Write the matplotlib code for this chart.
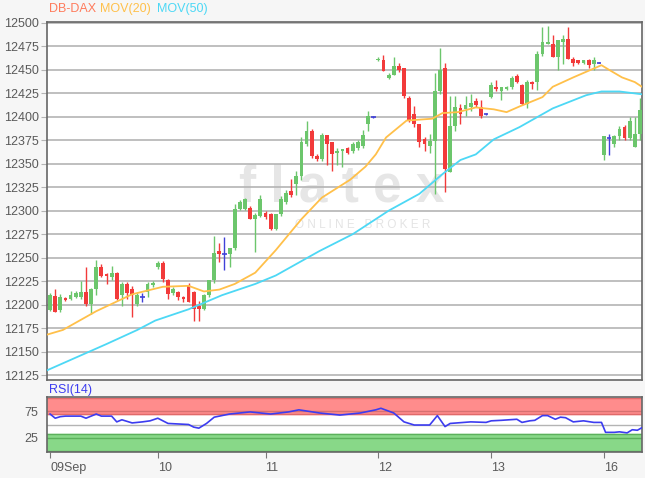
import matplotlib
matplotlib.use("Agg")
import matplotlib.pyplot as plt
import numpy as np

plt.rcParams["font.family"] = ["Liberation Sans", "DejaVu Sans"]

# candles: (open, high, low, close), 30-min bars, index = bar number
opens = [12194, 12209, 12194, 12207, 12206, 12208, 12208, 12213, 12201, 12217,
         12240, 12233, 12229, 12234, 12210, 12222, 12217, 12201, 12208, 12213, 12221,
         12240, 12244, 12226, 12212, 12213, 12208, 12221, 12213, 12199, 12195,
         12210, 12226, 12257, 12254, 12254, 12260, 12302, 12302, 12303, 12291, 12294,
         12298, 12297, 12281, 12296, 12309, 12321, 12328, 12337, 12371, 12385, 12358,
         12355, 12381, 12373, 12362, 12364, 12367, 12364, 12367, 12369, 12392, 12400,
         12460, 12461, 12441, 12445, 12454, 12452, 12420, 12403, 12392, 12376, 12369,
         12374, 12427, 12452, 12341, 12390, 12409, 12408, 12410, 12417, 12410, 12403,
         12421, 12432, 12428, 12430, 12432, 12444, 12434, 12414, 12437, 12437, 12467,
         12478, 12478, 12464, 12480, 12483, 12462, 12460, 12457, 12460, 12456, 12457,
         12359, 12377, 12371, 12380, 12389, 12377, 12368, 12382]
closes = [12210, 12192, 12208, 12205, 12210, 12212, 12213, 12201, 12217, 12240,
          12230, 12230, 12234, 12206, 12222, 12212, 12210, 12210, 12208, 12222, 12223,
          12244, 12227, 12211, 12217, 12208, 12206, 12203, 12195, 12195, 12210,
          12226, 12255, 12254, 12254, 12260, 12302, 12309, 12312, 12291, 12295, 12312,
          12293, 12281, 12296, 12312, 12319, 12317, 12337, 12373, 12385, 12358, 12355,
          12381, 12371, 12360, 12364, 12366, 12362, 12371, 12373, 12381, 12401, 12400,
          12462, 12449, 12445, 12454, 12450, 12422, 12396, 12392, 12373, 12371, 12374,
          12427, 12450, 12344, 12390, 12410, 12403, 12413, 12415, 12413, 12401, 12403,
          12434, 12430, 12432, 12432, 12441, 12437, 12414, 12437, 12435, 12467, 12480,
          12480, 12464, 12482, 12483, 12462, 12457, 12457, 12460, 12455, 12460, 12457,
          12380, 12377, 12380, 12387, 12377, 12396, 12382, 12407]
highs = [12212, 12217, 12211, 12208, 12214, 12214, 12225, 12240, 12218, 12247,
         12243, 12234, 12241, 12235, 12224, 12224, 12220, 12212, 12212, 12224, 12225,
         12246, 12246, 12227, 12219, 12215, 12209, 12223, 12214, 12204, 12211,
         12226, 12273, 12266, 12272, 12260, 12307, 12311, 12314, 12305, 12298, 12317,
         12300, 12298, 12297, 12316, 12322, 12334, 12342, 12378, 12396, 12387, 12360,
         12383, 12381, 12373, 12367, 12366, 12368, 12373, 12375, 12386, 12406, 12401,
         12464, 12466, 12447, 12464, 12457, 12452, 12422, 12412, 12392, 12378, 12382,
         12447, 12473, 12457, 12422, 12422, 12414, 12422, 12424, 12420, 12418, 12404,
         12437, 12439, 12432, 12433, 12443, 12446, 12435, 12439, 12438, 12470, 12496,
         12497, 12487, 12482, 12487, 12496, 12464, 12461, 12461, 12462, 12464, 12458,
         12380, 12382, 12381, 12390, 12391, 12400, 12400, 12420]
lows = [12193, 12192, 12192, 12204, 12205, 12207, 12206, 12199, 12190, 12210,
        12229, 12222, 12226, 12205, 12199, 12206, 12187, 12199, 12203, 12208, 12219,
        12238, 12224, 12206, 12210, 12205, 12203, 12203, 12183, 12183, 12194,
        12208, 12223, 12245, 12237, 12240, 12258, 12301, 12301, 12291, 12256, 12293,
        12291, 12279, 12279, 12294, 12307, 12315, 12317, 12333, 12369, 12356, 12353,
        12353, 12349, 12342, 12349, 12347, 12360, 12362, 12365, 12367, 12385, 12399,
        12459, 12449, 12440, 12445, 12448, 12420, 12394, 12389, 12368, 12364, 12361,
        12318, 12424, 12320, 12341, 12385, 12392, 12401, 12406, 12410, 12399, 12402,
        12420, 12427, 12418, 12429, 12430, 12436, 12413, 12409, 12430, 12429, 12465,
        12478, 12464, 12450, 12456, 12462, 12454, 12456, 12456, 12452, 12450, 12457,
        12354, 12359, 12368, 12375, 12375, 12375, 12368, 12375]

# moving averages, read at bar positions
ma20_x = [-0.6, 2.5, 9, 16, 22, 27, 30, 33, 36, 40, 44, 49, 53, 58.5, 61.5, 63.5,
          65.5, 69.5, 74.5, 76.5, 79.5, 83, 86.5, 89, 91.5, 96, 98, 102, 107.5, 109,
          111.5, 114, 115.4]
ma20 = [12168, 12173, 12193, 12211, 12219, 12220, 12214, 12216, 12222, 12234,
        12258, 12291, 12314, 12333, 12347, 12360, 12378, 12396, 12398, 12404, 12405,
        12410, 12408, 12405, 12411, 12421, 12432, 12442, 12455, 12450, 12442, 12437,
        12432]
ma50_x = [-0.6, 11, 17, 20.5, 27, 33.5, 40, 44, 52.5, 59, 66, 72, 76.5, 80, 83, 86.5,
          91.5, 98, 104.5, 107.5, 111, 115.4]
ma50 = [12130, 12158, 12173, 12183, 12195, 12210, 12222, 12231, 12257, 12275, 12300,
        12318, 12339, 12354, 12360, 12376, 12389, 12409, 12423, 12427, 12427, 12424]

# RSI(14)
rsi_x = [0, 1, 2, 3, 6, 7, 9, 10, 12, 13, 14, 16, 18, 19.5, 21, 22, 23, 25, 27, 28,
         29, 30.5, 32, 33, 35, 39, 43, 46.5, 48.5, 52.5, 56.5, 60.5, 63.5, 64.5,
         67, 69, 71, 74, 75.5, 77, 78, 82, 85, 86, 88, 91, 92, 93.5, 94.5, 96,
         97, 98.5, 99.5, 100.5, 102, 104, 106, 107.5, 108.3, 110, 111, 112.5, 113.5,
         114.5, 115.4]
rsi = [70, 62, 65, 66, 66, 62, 70, 66, 66, 55, 59, 53, 55, 57, 62, 57, 52, 51, 50,
       45, 43, 52, 64, 66, 70, 74, 70, 74, 78, 72, 68, 72, 78, 81, 72, 55, 49, 49,
       67, 46, 52, 55, 54, 57, 58, 60, 54, 57, 58, 67, 67, 60, 64, 63, 55, 57, 54,
       54, 35, 35, 36, 34, 40, 39, 44]

day_ticks = [0, 21, 42, 64, 86, 108]
day_labels = ["09Sep", "10", "11", "12", "13", "16"]

GREEN = "#6cc66c"
RED = "#f23a3a"
DOJI = "#4040d8"
GRID = "#b4b4b4"
TXT = "#5a5a5a"

fig = plt.figure(figsize=(6.45, 4.78), dpi=100)
fig.patch.set_facecolor("#f6f6f6")

ax = fig.add_axes([47 / 645, 1 - 380 / 478, 595 / 645, 358 / 478])
rax = fig.add_axes([47 / 645, 1 - 452 / 478, 595 / 645, 55 / 478], sharex=ax)

# ---- main candle panel
o = np.array(opens)
c = np.array(closes)
h = np.array(highs)
l = np.array(lows)
idx = np.arange(len(o))
up = c > o
down = c < o
flat = c == o

ax.vlines(idx[up], l[up], h[up], color=GREEN, lw=1.0, zorder=3)
ax.vlines(idx[down], l[down], h[down], color=RED, lw=1.0, zorder=3)
ax.vlines(idx[flat], l[flat], h[flat], color=DOJI, lw=1.0, zorder=3)
ax.bar(idx[up], c[up] - o[up], bottom=o[up], width=0.74, color=GREEN, zorder=4)
ax.bar(idx[down], o[down] - c[down], bottom=c[down], width=0.74, color=RED, zorder=4)
ax.hlines(o[flat], idx[flat] - 0.45, idx[flat] + 0.45, color=DOJI, lw=1.2, zorder=4)

ax.plot(ma20_x, ma20, color="#ffc04a", lw=1.3, zorder=5)
ax.plot(ma50_x, ma50, color="#4dd8f5", lw=1.3, zorder=5)

ax.set_xlim(-0.6, 115.4)
ax.set_ylim(12119.7, 12501)
ax.set_yticks(np.arange(12125, 12501, 25))
ax.grid(axis="y", color=GRID, lw=1.2, zorder=1)
ax.tick_params(axis="y", direction="out", length=4, color=GRID, labelcolor=TXT,
               labelsize=9, pad=2)
ax.tick_params(axis="x", which="both", bottom=False, labelbottom=False)
for s in ax.spines.values():
    s.set_color("#666666")
    s.set_linewidth(1.2)

# watermark
ax.text(0.496, 0.536, "f l a t e x", transform=ax.transAxes, ha="center", va="center",
        fontsize=37, fontweight="bold", color="#e6e6e6", zorder=0)
ax.text(0.53, 0.433, "O N L I N E   B R O K E R", transform=ax.transAxes, ha="center",
        va="center", fontsize=8.5, color="#e4e4e4", zorder=0)

# ---- RSI panel
rax.axhspan(71, 100, color="#ff8c8c", zorder=1)
rax.axhspan(0, 31, color="#88d888", zorder=1)
rax.axhline(71, color="#e06a6a", lw=1.0, zorder=2)
rax.axhline(31, color="#5cb05c", lw=1.0, zorder=2)
rax.axhline(100, color="#e06a6a", lw=1.0, zorder=2)
rax.axhline(0, color="#5cb05c", lw=1.0, zorder=2)
rax.axhline(50, color=GRID, lw=1.0, zorder=2)
rax.axhline(75, color="#d77070", lw=1.0, zorder=2)
rax.axhline(25, color="#5cb05c", lw=1.0, zorder=2)
rax.plot(rsi_x, rsi, color="#3c3cf0", lw=1.2, zorder=4)
rax.set_ylim(-2.5, 102.5)
rax.set_yticks([25, 75])
rax.tick_params(axis="y", length=0, labelcolor=TXT, labelsize=9, pad=6)
rax.set_xticks(day_ticks)
rax.set_xticklabels(day_labels, ha="left")
rax.tick_params(axis="x", direction="out", length=4, color="#777777",
                labelcolor=TXT, labelsize=9, pad=3)
for s in rax.spines.values():
    s.set_color("#666666")
    s.set_linewidth(1.2)

# header texts
fig.text(49 / 645, 1 - 9 / 478, "DB-DAX", color="#ff7b5c", fontsize=9, va="center")
fig.text(100 / 645, 1 - 9 / 478, "MOV(20)", color="#ffc04a", fontsize=9, va="center")
fig.text(157 / 645, 1 - 9 / 478, "MOV(50)", color="#4dd8f5", fontsize=9, va="center")
fig.text(49 / 645, 1 - 390.5 / 478, "RSI(14)", color="#3c3cf0", fontsize=9, va="center")

fig.savefig("out.png", dpi=100, facecolor=fig.get_facecolor())
